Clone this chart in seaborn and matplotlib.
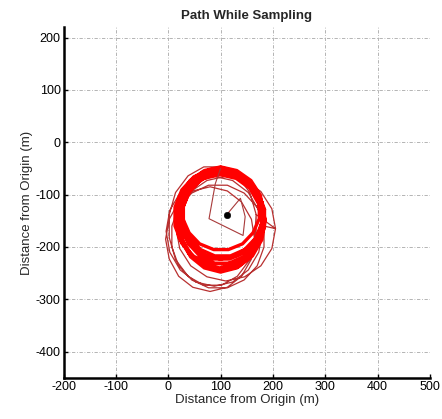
import numpy as np
import pandas as pd
import matplotlib
matplotlib.use("Agg")
import matplotlib.pyplot as plt
import seaborn as sns

# ---- data ----
# approach segment from sampling point out to the orbit
approach_x = [112, 138, 147, 143, 78, 90, 100]
approach_y = [-138, -107, -142, -178, -146, -79, -50]

# dense inner orbit loops
loop_x = [
    [182, 176, 158, 131, 100, 69, 42, 24, 18, 24, 42, 69, 100, 131, 158, 176],
    [179, 167, 145, 117, 87, 59, 37, 26, 26, 37, 59, 87, 117, 145, 167, 179],
    [182, 176, 157, 130, 98, 66, 39, 20, 14, 20, 39, 66, 98, 130, 157, 176],
    [179, 167, 146, 119, 89, 62, 41, 29, 29, 41, 62, 89, 119, 146, 167, 179],
    [180, 174, 157, 131, 100, 69, 43, 26, 20, 26, 43, 69, 100, 131, 157, 174],
    [181, 169, 145, 114, 80, 49, 26, 13, 13, 26, 49, 80, 114, 145, 169, 181],
    [185, 179, 161, 134, 103, 72, 45, 27, 21, 27, 45, 72, 103, 134, 161, 179],
    [174, 162, 142, 115, 87, 60, 40, 28, 28, 40, 60, 87, 115, 142, 162, 174],
    [179, 173, 156, 130, 99, 68, 42, 25, 19, 25, 42, 68, 99, 130, 156, 173],
    [184, 172, 150, 121, 89, 61, 39, 27, 27, 39, 61, 89, 121, 150, 172, 184],
]
loop_y = [
    [-135, -101, -73, -54, -47, -54, -73, -101, -135, -169, -197, -216, -223, -216, -197, -169],
    [-123, -93, -69, -57, -57, -69, -93, -123, -157, -187, -211, -223, -223, -211, -187, -157],
    [-145, -109, -78, -57, -50, -57, -78, -109, -145, -181, -212, -233, -240, -233, -212, -181],
    [-122, -94, -72, -60, -60, -72, -94, -122, -154, -183, -205, -217, -217, -205, -183, -154],
    [-148, -110, -77, -56, -48, -56, -77, -110, -148, -186, -219, -240, -248, -240, -219, -186],
    [-124, -91, -66, -52, -52, -66, -91, -124, -160, -193, -218, -232, -232, -218, -193, -160],
    [-150, -114, -83, -62, -55, -62, -83, -114, -150, -186, -217, -238, -245, -238, -217, -186],
    [-118, -91, -71, -59, -59, -71, -91, -118, -146, -173, -194, -205, -205, -194, -173, -146],
    [-152, -118, -88, -69, -62, -69, -88, -118, -152, -186, -216, -235, -242, -235, -216, -186],
    [-128, -96, -72, -59, -59, -72, -96, -128, -162, -194, -218, -231, -231, -218, -194, -162],
]

# wider outer loops (drifting to the lower left)
outer_x = [
    [180, 173, 153, 123, 88, 53, 23, 3, -4, 3, 23, 53, 88, 123, 153, 173],
    [183, 170, 145, 113, 77, 45, 20, 7, 7, 20, 45, 77, 113, 145, 170, 183],
    [205, 198, 177, 146, 110, 74, 43, 22, 15, 22, 43, 74, 110, 146, 177, 198],
    [168, 156, 132, 102, 68, 38, 14, 2, 2, 14, 38, 68, 102, 132, 156, 168],
    [165, 159, 140, 113, 80, 47, 20, 2, -5, 2, 20, 47, 80, 113, 140, 159],
]
outer_y = [
    [-170, -130, -96, -73, -65, -73, -96, -130, -170, -210, -244, -267, -275, -267, -244, -210],
    [-160, -124, -97, -82, -82, -97, -124, -160, -200, -236, -263, -278, -278, -263, -236, -200],
    [-165, -127, -94, -73, -65, -73, -94, -127, -165, -203, -236, -257, -265, -257, -236, -203],
    [-138, -96, -64, -47, -47, -64, -96, -138, -182, -224, -256, -273, -273, -256, -224, -182],
    [-185, -147, -114, -93, -85, -93, -114, -147, -185, -223, -256, -277, -285, -277, -256, -223],
]

sample_x = [112]
sample_y = [-138]

x_ticks = [-200, -100, 0, 100, 200, 300, 400, 500]
y_ticks = [-400, -300, -200, -100, 0, 100, 200]

# ---- build tables ----
def concat_loops(xs, ys):
    px, py = [], []
    for lx, ly in zip(xs, ys):
        px += lx + [lx[0]]
        py += ly + [ly[0]]
    return px, py

ix, iy = concat_loops(loop_x, loop_y)
ox, oy = concat_loops(outer_x, outer_y)
df_inner = pd.DataFrame({"x": ix, "y": iy})
df_outer = pd.DataFrame({"x": ox, "y": oy})
df_app = pd.DataFrame({"x": approach_x, "y": approach_y})

sns.set_theme(style="white")
plt.rcParams["font.family"] = ["Liberation Sans", "DejaVu Sans"]
plt.rcParams["axes.unicode_minus"] = False
plt.rcParams["lines.solid_joinstyle"] = "round"
plt.rcParams["lines.solid_capstyle"] = "round"

fig = plt.figure(figsize=(4.42, 4.19), dpi=100)
ax = fig.add_axes([0.1437, 0.0979, 0.829, 0.8377])

sns.lineplot(data=df_outer, x="x", y="y", sort=False, estimator=None,
             color="#b83030", linewidth=0.9, ax=ax)
sns.lineplot(data=df_inner, x="x", y="y", sort=False, estimator=None,
             color="#ff0000", linewidth=2.4, ax=ax)
sns.lineplot(data=df_app, x="x", y="y", sort=False, estimator=None,
             color="#a83a3a", linewidth=0.8, ax=ax)
sns.scatterplot(x=sample_x, y=sample_y, color="black", s=22, edgecolor="black",
                zorder=5, ax=ax)

ax.set_xlim(-200, 500)
ax.set_ylim(-450, 220)
ax.set_aspect("equal", adjustable="box")
ax.set_xticks(x_ticks)
ax.set_yticks(y_ticks)
ax.grid(True, color="#a8a8a8", linestyle=(0, (4, 2, 1, 2)), linewidth=0.6)
ax.set_axisbelow(True)

for s in ["top", "right"]:
    ax.spines[s].set_visible(False)
for s in ["left", "bottom"]:
    ax.spines[s].set_color("black")
    ax.spines[s].set_linewidth(1.8)

ax.tick_params(axis="both", direction="in", length=3, width=1, colors="black",
               labelsize=9, left=True, bottom=True, pad=2)

ax.set_xlabel("Distance from Origin (m)", fontsize=9.5, labelpad=1)
ax.set_ylabel("Distance from Origin (m)", fontsize=9.5, labelpad=2)
ax.set_title("Path While Sampling", fontsize=9.5, fontweight="bold", pad=6)

fig.savefig("out.png", dpi=100, facecolor="white")
